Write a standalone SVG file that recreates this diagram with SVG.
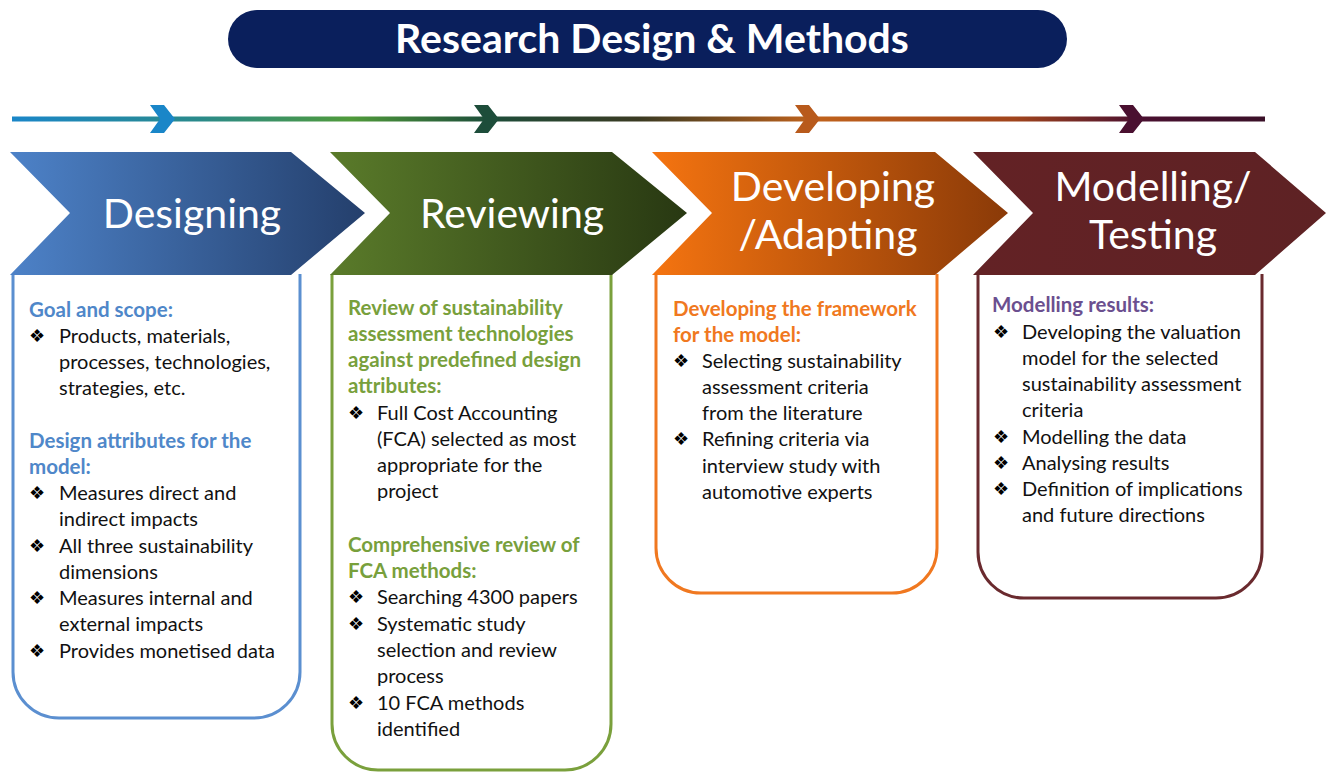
<svg xmlns="http://www.w3.org/2000/svg" width="1326" height="775" viewBox="0 0 1326 775">
<defs>
<linearGradient id="lineGrad" x1="12" y1="0" x2="1265" y2="0" gradientUnits="userSpaceOnUse">
<stop offset="0" stop-color="#1a86c8"/>
<stop offset="0.15" stop-color="#2a8a8a"/>
<stop offset="0.27" stop-color="#4f9a3a"/>
<stop offset="0.38" stop-color="#1d4d3a"/>
<stop offset="0.5" stop-color="#3a3a22"/>
<stop offset="0.64" stop-color="#c0621c"/>
<stop offset="0.8" stop-color="#a0441c"/>
<stop offset="0.9" stop-color="#4a1030"/>
<stop offset="1" stop-color="#3a1028"/>
</linearGradient>
<linearGradient id="g1" x1="0" y1="0" x2="1" y2="0">
<stop offset="0" stop-color="#4d82c8"/>
<stop offset="1" stop-color="#243f6c"/>
</linearGradient>
<linearGradient id="g2" x1="0" y1="0" x2="1" y2="0">
<stop offset="0" stop-color="#5a7b2a"/>
<stop offset="1" stop-color="#283812"/>
</linearGradient>
<linearGradient id="g3" x1="0" y1="0" x2="1" y2="0">
<stop offset="0" stop-color="#f57410"/>
<stop offset="1" stop-color="#8a3a08"/>
</linearGradient>
<linearGradient id="g4" x1="0" y1="0" x2="1" y2="0">
<stop offset="0" stop-color="#632225"/>
<stop offset="1" stop-color="#5e2224"/>
</linearGradient>
<style>
.hd{font-family:Lato,"Liberation Sans",sans-serif;font-size:41px;fill:#ffffff;text-anchor:middle}
.t{font-family:Lato,"Liberation Sans",sans-serif;font-size:20px;fill:#111111}
.b{font-family:Lato,"Liberation Sans",sans-serif;font-size:20.5px;font-weight:bold}
.bl{font-family:"DejaVu Sans",sans-serif;font-size:18px;fill:#000000}
.box{fill:#ffffff;stroke-width:3}
</style>
</defs>
<rect width="1326" height="775" fill="#ffffff"/>

<g id="title">
<rect x="228" y="10" width="839" height="58" rx="29" fill="#0a1f5c"/>
<text x="652" y="53" text-anchor="middle" font-family="Lato,'Liberation Sans',sans-serif" font-size="41" font-weight="bold" fill="#ffffff">Research Design &amp; Methods</text>
</g>

<g id="connectors">
<rect x="12" y="116.5" width="1253" height="5" fill="url(#lineGrad)"/>
<polygon points="150,105 164,105 175,119 164,133 150,133 160,119" fill="#1a86c8"/>
<polygon points="474,105 488,105 499,119 488,133 474,133 484,119" fill="#1d4d3a"/>
<polygon points="795,105 809,105 820,119 809,133 795,133 805,119" fill="#b85a1c"/>
<polygon points="1119,105 1133,105 1144,119 1133,133 1119,133 1129,119" fill="#4a1030"/>
</g>

<g id="designing">
<path class="box" d="M13,274 V672 A46,46 0 0 0 59,718 H254 A46,46 0 0 0 300,672 V274" stroke="#5b8fd0"/>
<polygon points="10,152 291,152 365,213 291,275 10,275 70,213" fill="url(#g1)"/>
<text class="hd" x="192" y="228">Designing</text>
<text class="b" x="29" y="317" fill="#4f87c9">Goal and scope:</text>
<text class="bl" x="29" y="342">❖</text>
<text class="t" x="59" y="343">Products, materials,</text>
<text class="t" x="59" y="369">processes, technologies,</text>
<text class="t" x="59" y="395">strategies, etc.</text>
<text class="b" x="29" y="448" fill="#4f87c9">Design attributes for the</text>
<text class="b" x="29" y="474" fill="#4f87c9">model:</text>
<text class="bl" x="29" y="499">❖</text>
<text class="t" x="59" y="500">Measures direct and</text>
<text class="t" x="59" y="526">indirect impacts</text>
<text class="bl" x="29" y="552">❖</text>
<text class="t" x="59" y="553">All three sustainability</text>
<text class="t" x="59" y="579">dimensions</text>
<text class="bl" x="29" y="604">❖</text>
<text class="t" x="59" y="605">Measures internal and</text>
<text class="t" x="59" y="631">external impacts</text>
<text class="bl" x="29" y="657">❖</text>
<text class="t" x="59" y="658">Provides monetised data</text>
</g>

<g id="reviewing">
<path class="box" d="M332,274 V724 A46,46 0 0 0 378,770 H565 A46,46 0 0 0 611,724 V274" stroke="#7aa03c"/>
<polygon points="330,152 612,152 687,213 612,275 330,275 390,213" fill="url(#g2)"/>
<text class="hd" x="512" y="228">Reviewing</text>
<text class="b" x="348" y="315" fill="#78a03c">Review of sustainability</text>
<text class="b" x="348" y="341" fill="#78a03c">assessment technologies</text>
<text class="b" x="348" y="367" fill="#78a03c">against predefined design</text>
<text class="b" x="348" y="393" fill="#78a03c">attributes:</text>
<text class="bl" x="348" y="419">❖</text>
<text class="t" x="377" y="420">Full Cost Accounting</text>
<text class="t" x="377" y="446">(FCA) selected as most</text>
<text class="t" x="377" y="472">appropriate for the</text>
<text class="t" x="377" y="498">project</text>
<text class="b" x="348" y="552" fill="#78a03c">Comprehensive review of</text>
<text class="b" x="348" y="578" fill="#78a03c">FCA methods:</text>
<text class="bl" x="348" y="603">❖</text>
<text class="t" x="377" y="604">Searching 4300 papers</text>
<text class="bl" x="348" y="630">❖</text>
<text class="t" x="377" y="631">Systematic study</text>
<text class="t" x="377" y="657">selection and review</text>
<text class="t" x="377" y="683">process</text>
<text class="bl" x="348" y="709">❖</text>
<text class="t" x="377" y="710">10 FCA methods</text>
<text class="t" x="377" y="736">identified</text>
</g>

<g id="developing">
<path class="box" d="M656,274 V548 A45,45 0 0 0 701,593 H892 A45,45 0 0 0 937,548 V274" stroke="#f07820"/>
<polygon points="652,152 935,152 1008,213 935,275 652,275 712,213" fill="url(#g3)"/>
<text class="hd" x="833" y="201">Developing</text>
<text class="hd" x="828" y="249">/Adapting</text>
<text class="b" x="673" y="316" fill="#f07820">Developing the framework</text>
<text class="b" x="673" y="342" fill="#f07820">for the model:</text>
<text class="bl" x="673" y="367">❖</text>
<text class="t" x="702" y="368">Selecting sustainability</text>
<text class="t" x="702" y="394">assessment criteria</text>
<text class="t" x="702" y="420">from the literature</text>
<text class="bl" x="673" y="445">❖</text>
<text class="t" x="702" y="446">Refining criteria via</text>
<text class="t" x="702" y="473">interview study with</text>
<text class="t" x="702" y="499">automotive experts</text>
</g>

<g id="modelling">
<path class="box" d="M978,274 V552 A46,46 0 0 0 1024,598 H1216 A46,46 0 0 0 1262,552 V274" stroke="#6a2a2e"/>
<polygon points="973,152 1255,152 1326,213 1255,275 973,275 1033,213" fill="url(#g4)"/>
<text class="hd" x="1153" y="201">Modelling/</text>
<text class="hd" x="1153" y="249">Testing</text>
<text class="b" x="992" y="312" fill="#6b4f8f">Modelling results:</text>
<text class="bl" x="993" y="338">❖</text>
<text class="t" x="1022" y="339">Developing the valuation</text>
<text class="t" x="1022" y="365">model for the selected</text>
<text class="t" x="1022" y="391">sustainability assessment</text>
<text class="t" x="1022" y="417">criteria</text>
<text class="bl" x="993" y="443">❖</text>
<text class="t" x="1022" y="444">Modelling the data</text>
<text class="bl" x="993" y="469">❖</text>
<text class="t" x="1022" y="470">Analysing results</text>
<text class="bl" x="993" y="495">❖</text>
<text class="t" x="1022" y="496">Definition of implications</text>
<text class="t" x="1022" y="522">and future directions</text>
</g>
</svg>
